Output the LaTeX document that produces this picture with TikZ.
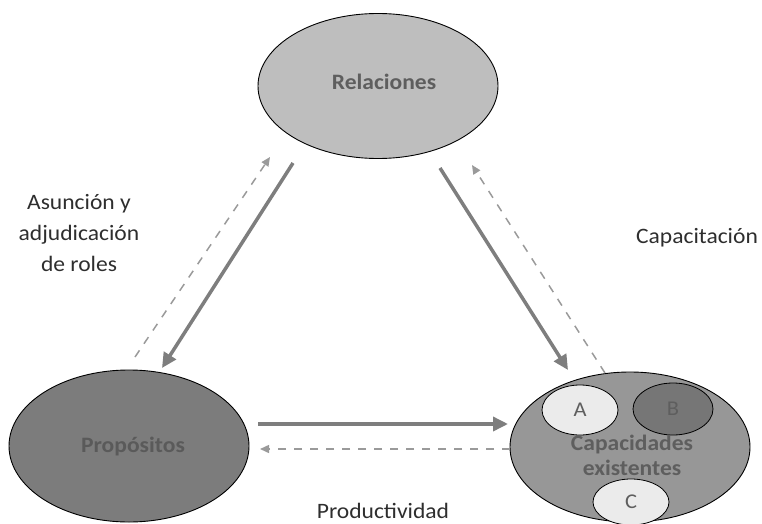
\documentclass[tikz,border=0pt]{standalone}
\usepackage{fontspec}
\setmainfont{Carlito}[FakeStretch=1.07]
\usetikzlibrary{shapes.geometric,arrows.meta}

\definecolor{relfill}{HTML}{BEBEBE}
\definecolor{propfill}{HTML}{7C7C7C}
\definecolor{capfill}{HTML}{979797}
\definecolor{lightfill}{HTML}{EBEBEB}
\definecolor{darkfill}{HTML}{767676}
\definecolor{intext}{HTML}{5E5E5E}
\definecolor{proptext}{HTML}{5A5A5A}
\definecolor{labeltext}{HTML}{2E2E2E}
\definecolor{solidgray}{HTML}{7E7E7E}
\definecolor{dashgray}{HTML}{9A9A9A}

\tikzset{
  blob/.style={ellipse, draw=black, line width=0.9pt, inner sep=0pt},
  inner/.style={ellipse, draw=black, line width=0.8pt, inner sep=0pt,
    font=\fontsize{21}{23}\selectfont, text=intext},
  intitle/.style={font=\bfseries\fontsize{22}{25}\selectfont, text=intext, align=center},
  label/.style={font=\fontsize{22}{31}\selectfont, text=labeltext, align=center},
  flow/.style={draw=solidgray, line width=3.5pt,
    -{Triangle[length=15pt,width=14pt,fill=solidgray]}},
  feedback/.style={draw=dashgray, line width=1.5pt, dash pattern=on 8pt off 8pt,
    -{Triangle[length=9pt,width=8pt,fill=dashgray]}}
}

\begin{document}
\begin{tikzpicture}[x=1pt,y=-1pt]
  \useasboundingbox (0,0) rectangle (762,524);

  % the three main areas
  \node[blob, fill=relfill, minimum width=240pt, minimum height=145pt] (rel) at (378,86) {};
  \node[intitle] (reltxt) at (384,82) {Relaciones};

  \node[blob, fill=propfill, minimum width=240pt, minimum height=152pt] (prop) at (129,446) {};
  \node[intitle, text=proptext] (proptxt) at (133,447) {Propósitos};

  \node[blob, fill=capfill, minimum width=240pt, minimum height=150pt] (cap) at (630,447) {};
  \node[inner, fill=lightfill, minimum width=76pt, minimum height=50pt] (ca) at (580,410) {A};
  \node[inner, fill=darkfill, minimum width=80pt, minimum height=52pt] (cb) at (673,409) {B};
  \node[inner, fill=lightfill, minimum width=76pt, minimum height=46pt] (cc) at (631,502) {C};
  \node[intitle] (captxt) at (632,455) {Capacidades\\existentes};

  % arrow end points
  \coordinate (l1s) at (293,163); \coordinate (l1e) at (162,368);
  \coordinate (l2s) at (135,357); \coordinate (l2e) at (270,157);
  \coordinate (r1s) at (440,168); \coordinate (r1e) at (568,370);
  \coordinate (r2s) at (605,373); \coordinate (r2e) at (472,165);
  \coordinate (b1s) at (258,424); \coordinate (b1e) at (508,424);
  \coordinate (b2s) at (510,449); \coordinate (b2e) at (260,449);

  \draw[flow] (l1s) -- (l1e);
  \draw[feedback] (l2s) -- (l2e);
  \draw[flow] (r1s) -- (r1e);
  \draw[feedback] (r2s) -- (r2e);
  \draw[flow] (b1s) -- (b1e);
  \draw[feedback] (b2s) -- (b2e);

  % side labels
  \node[label] (roles) at (79,233) {Asunción y\\adjudicación\\de roles};
  \node[label] (capac) at (697,238) {Capacitación};
  \node[label] (prod) at (383,511) {Productividad};
\end{tikzpicture}
\end{document}
